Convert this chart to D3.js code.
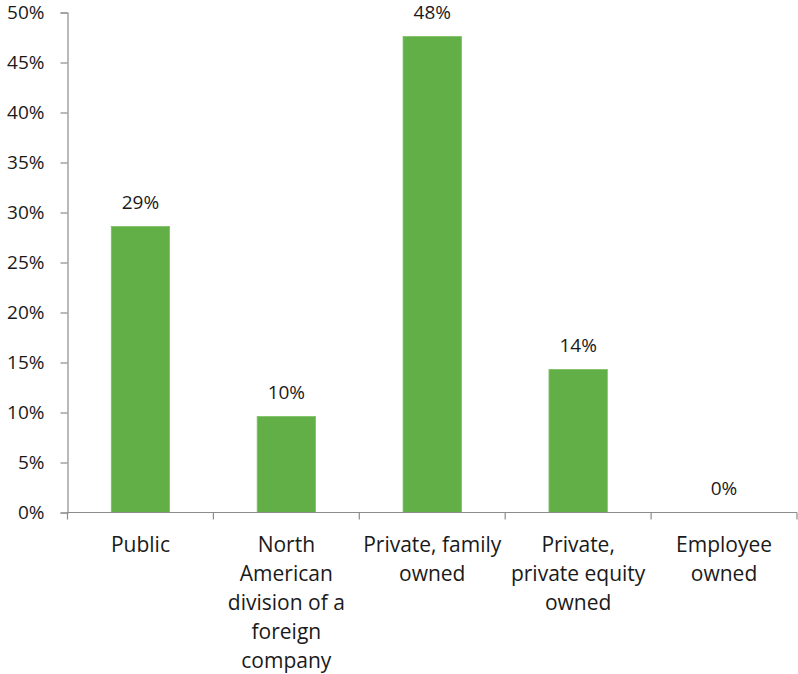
<!DOCTYPE html>
<html>
<head>
<meta charset="utf-8">
<script src="https://cdn.jsdelivr.net/npm/d3@7"></script>
<style>
  html, body { margin: 0; padding: 0; background: #fff; }
  svg text { font-family: "Open Sans", Lato, sans-serif; fill: #1a1a1a; }
</style>
</head>
<body>
<svg id="chart" width="798" height="674"></svg>
<script>
// Ownership structure share of respondents
const categories = [
  "Public",
  "North American division of a foreign company",
  "Private, family owned",
  "Private, private equity owned",
  "Employee owned"
];
// Category label lines as broken on the axis
const categoryLines = [
  ["Public"],
  ["North", "American", "division of a", "foreign", "company"],
  ["Private, family", "owned"],
  ["Private,", "private equity", "owned"],
  ["Employee", "owned"]
];
const shares = [0.286, 0.096, 0.476, 0.143, 0.0];
const yTicks = [0, 0.05, 0.10, 0.15, 0.20, 0.25, 0.30, 0.35, 0.40, 0.45, 0.50];

const svg = d3.select("#chart");
const plotLeft = 67.5, plotRight = 797, plotTop = 12.5, plotBottom = 512.5;
const numberFont = 19;
const categoryFont = 21;

const x = d3.scaleBand().domain(categories).range([plotLeft, plotRight]).padding(0);
const y = d3.scaleLinear().domain([0, 0.5]).range([plotBottom, plotTop]);
const pct = d3.format(".0%");
const axisColor = "#8c8c8c";

// Y axis
const yAxis = svg.append("g")
  .attr("transform", `translate(${plotLeft},0)`)
  .call(d3.axisLeft(y).tickValues(yTicks).tickFormat(pct).tickSize(7).tickPadding(16));
yAxis.select(".domain").attr("stroke", axisColor).attr("stroke-width", 1.2);
yAxis.selectAll(".tick line").attr("stroke", axisColor).attr("stroke-width", 1.2);
yAxis.selectAll(".tick text").attr("font-size", numberFont).attr("fill", "#1a1a1a")
  .attr("font-family", "'Open Sans', Lato, sans-serif");

// Bars
const barW = x.bandwidth() * 0.4;
svg.append("g").selectAll("rect")
  .data(categories)
  .join("rect")
  .attr("x", (d) => x(d) + (x.bandwidth() - barW) / 2)
  .attr("width", barW)
  .attr("y", (d, i) => y(shares[i]))
  .attr("height", (d, i) => plotBottom - y(shares[i]))
  .attr("fill", "#62ae47")
  .attr("stroke", "#7cc064")
  .attr("stroke-width", 0.8);

// X axis line and boundary ticks
const xg = svg.append("g");
xg.append("line")
  .attr("x1", plotLeft).attr("x2", plotRight)
  .attr("y1", plotBottom).attr("y2", plotBottom)
  .attr("stroke", axisColor).attr("stroke-width", 1.2);
const bounds = categories.map((d) => x(d)).concat([x(categories[categories.length - 1]) + x.bandwidth()]);
xg.selectAll("line.tk")
  .data(bounds)
  .join("line")
  .attr("class", "tk")
  .attr("x1", (d) => d).attr("x2", (d) => d)
  .attr("y1", plotBottom).attr("y2", plotBottom + 7)
  .attr("stroke", axisColor).attr("stroke-width", 1.2);

// Category labels
const catG = svg.append("g").selectAll("text")
  .data(categories)
  .join("text")
  .attr("text-anchor", "middle")
  .attr("font-size", categoryFont)
  .attr("x", (d) => x(d) + x.bandwidth() / 2)
  .attr("y", plotBottom + 39.5);
catG.each(function (d, i) {
  d3.select(this).selectAll("tspan")
    .data(categoryLines[i])
    .join("tspan")
    .attr("x", x(d) + x.bandwidth() / 2)
    .attr("dy", (t, j) => (j === 0 ? 0 : 29))
    .text((t) => t);
});

// Value labels
svg.append("g").selectAll("text")
  .data(categories)
  .join("text")
  .attr("text-anchor", "middle")
  .attr("font-size", numberFont)
  .attr("x", (d) => x(d) + x.bandwidth() / 2)
  .attr("y", (d, i) => y(shares[i]) - 18)
  .text((d, i) => pct(shares[i]));
</script>
</body>
</html>
